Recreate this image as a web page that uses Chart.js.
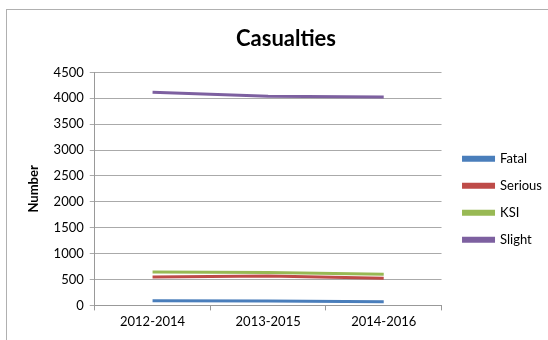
<!DOCTYPE html>
<html>
<head>
<meta charset="utf-8">
<script src="https://cdn.jsdelivr.net/npm/chart.js@4"></script>
<style>
  body { margin: 0; background: #fff; }
  #caja { position: absolute; left: 0; top: 0; width: 548px; height: 340px; overflow: hidden; }
  #marco { position: absolute; left: 6px; top: 9px; width: 600px; height: 400px; border: 1px solid #b0b0b0; }
  canvas { position: absolute; left: 0; top: 0; }
</style>
</head>
<body>
<div id="caja">
  <div id="marco"></div>
  <canvas id="grafico" width="548" height="340"></canvas>
</div>
<script>
// Datos
const periodos = ["2012-2014", "2013-2015", "2014-2016"];
const fatal = [90, 85, 72];
const serious = [550, 570, 525];
const ksi = [645, 635, 600];
const slight = [4115, 4040, 4025];

const fuente = "Lato, 'Open Sans', sans-serif";

const ctx = document.getElementById("grafico").getContext("2d");
const grafico = new Chart(ctx, {
  type: "line",
  data: {
    labels: periodos,
    datasets: [
      { label: "Fatal", data: fatal, borderColor: "#4a7ebb", backgroundColor: "#4a7ebb" },
      { label: "Serious", data: serious, borderColor: "#be4b48", backgroundColor: "#be4b48" },
      { label: "KSI", data: ksi, borderColor: "#98b954", backgroundColor: "#98b954" },
      { label: "Slight", data: slight, borderColor: "#7d60a0", backgroundColor: "#7d60a0" },
    ],
  },
  options: {
    responsive: false,
    animation: false,
    elements: {
      line: { borderWidth: 3, tension: 0 },
      point: { radius: 0 },
    },
    layout: { padding: { left: 20, right: -4, top: 0, bottom: 6 } },
    plugins: {
      title: {
        display: true,
        text: "Casualties",
        color: "#000",
        font: { family: fuente, size: 22, weight: "bold" },
        padding: { top: 26, bottom: 20 },
      },
      legend: {
        position: "right",
        maxWidth: 120,
        title: { display: true, text: " ", padding: { top: 0, bottom: 50 } },
        labels: {
          color: "#000",
          font: { family: fuente, size: 13 },
          boxWidth: 30,
          boxHeight: 3,
          padding: 14,
        },
      },
      tooltip: { enabled: false },
    },
    scales: {
      x: {
        offset: true,
        grid: { offset: true, drawOnChartArea: false, tickLength: 5, color: "#999" },
        border: { color: "#999" },
        ticks: { color: "#000", font: { family: fuente, size: 13 }, padding: 4 },
      },
      y: {
        min: 0,
        max: 4500,
        ticks: {
          stepSize: 500,
          color: "#000",
          font: { family: fuente, size: 13 },
          padding: 6,
          callback: (v) => String(v),
        },
        grid: { color: "#aaa", tickLength: 5 },
        border: { color: "#999" },
        title: {
          display: true,
          text: "Number",
          color: "#000",
          font: { family: fuente, size: 13, weight: "bold" },
          padding: 6,
        },
      },
      // eje vacio para separar la leyenda del grafico
      hueco: {
        position: "right",
        display: true,
        ticks: { display: false },
        grid: { display: false },
        border: { display: false },
        afterFit: (s) => { s.width = 8; },
      },
    },
  },
});
</script>
</body>
</html>
